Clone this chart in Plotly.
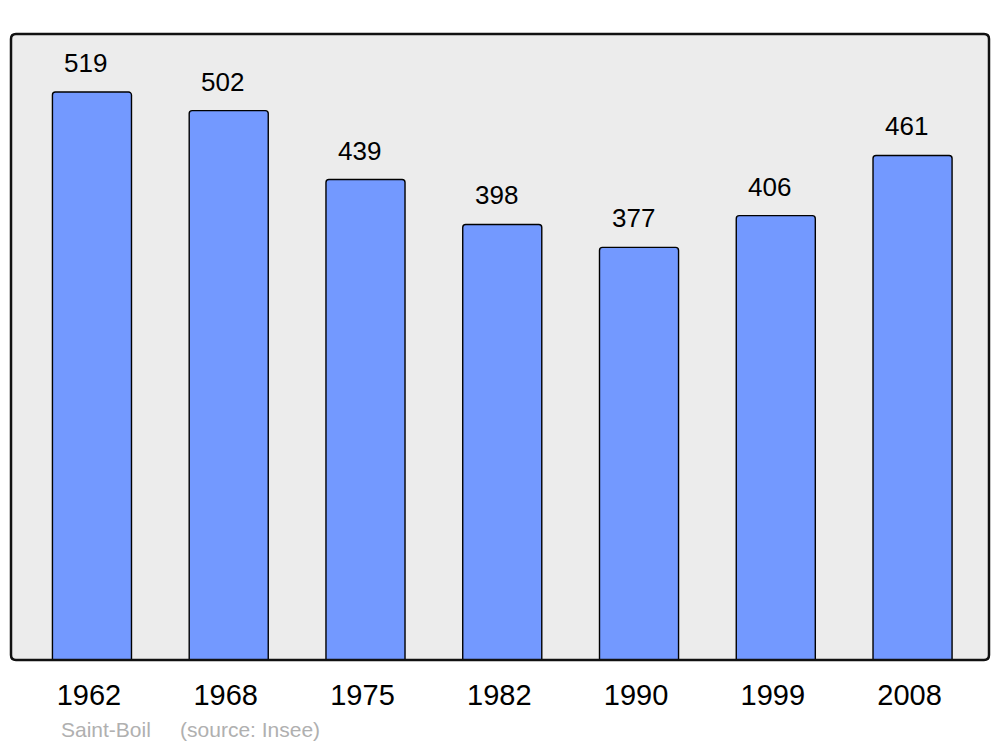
import plotly.graph_objects as go

years = ["1962", "1968", "1975", "1982", "1990", "1999", "2008"]
population = [519, 502, 439, 398, 377, 406, 461]
source_text = "Saint-Boil&nbsp;&nbsp;&nbsp;&nbsp;&nbsp;(source: Insee)"

xpos = list(range(len(years)))

fig = go.Figure()
fig.add_trace(go.Bar(
    x=xpos, y=population, width=0.578,
    marker=dict(color="#7399ff", line=dict(color="black", width=1.4), cornerradius=3),
    hoverinfo="skip",
))

for xi, v in zip(xpos, population):
    fig.add_annotation(x=xi, y=v, text=str(v), showarrow=False, xanchor="center",
                       yanchor="bottom", yshift=12, xshift=-6,
                       font=dict(family="Liberation Sans, Arial", size=26, color="black"))

fig.add_annotation(xref="paper", yref="paper", x=0.049, y=-0.1118, text=source_text,
                   showarrow=False, xanchor="left", yanchor="middle",
                   font=dict(family="Liberation Sans, Arial", size=21, color="#b0b0b0"))

# rounded border
W, H = 978.0, 626.0
r = 5.0
rx, ry = r / W, r / H
path = (f"M {rx},0 L {1-rx},0 Q 1,0 1,{ry} L 1,{1-ry} Q 1,1 {1-rx},1 "
        f"L {rx},1 Q 0,1 0,{1-ry} L 0,{ry} Q 0,0 {rx},0 Z")
fig.add_shape(type="path", xref="paper", yref="paper", path=path,
              line=dict(color="#111111", width=2.5), layer="above")

fig.update_layout(
    width=992, height=739,
    margin=dict(l=3, r=11, t=26, b=87),
    paper_bgcolor="white", plot_bgcolor="#ececec",
    showlegend=False,
    font=dict(family="Liberation Sans, Arial", color="black"),
    xaxis=dict(range=[-0.592, 6.559], tickvals=xpos, ticktext=years, showgrid=False,
               zeroline=False, ticks="", tickfont=dict(size=29), ticklabelstandoff=15,
               ticklabelshift=-3, fixedrange=True),
    yaxis=dict(range=[0, 572], showgrid=False, zeroline=False, showticklabels=False,
               ticks="", fixedrange=True),
)

fig.write_html("out.html")
